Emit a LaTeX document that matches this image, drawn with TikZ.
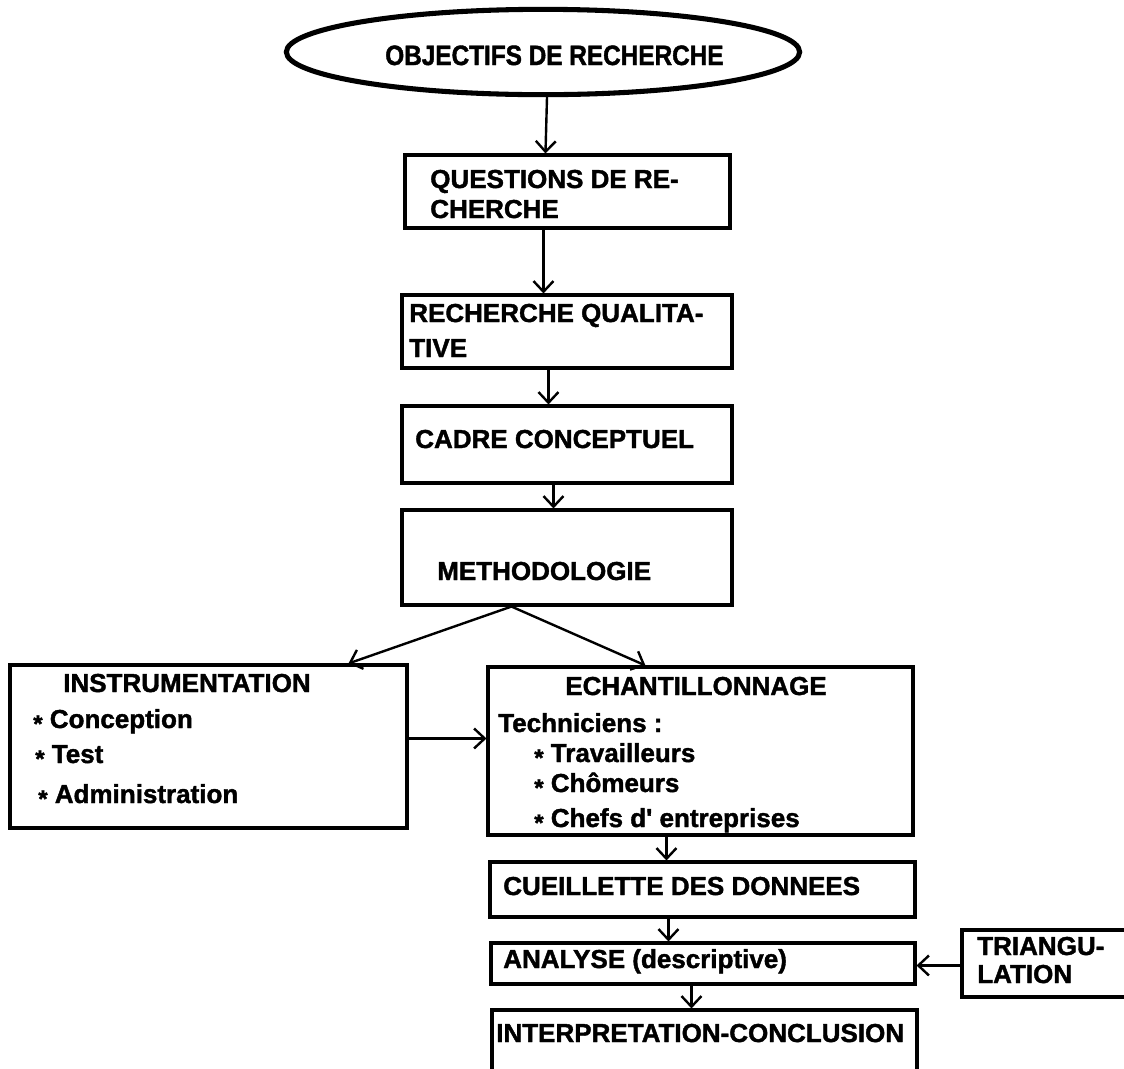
\documentclass[tikz,border=0pt]{standalone}
\usepackage{fontspec}
\setmainfont{Liberation Sans}[BoldFeatures={FakeBold=1.5}]
\newfontfamily\narrowfont{Liberation Sans}[FakeStretch=0.87,BoldFeatures={FakeBold=1.5}]
\usetikzlibrary{arrows.meta,shapes.geometric,fit,calc}
\newcommand\mybul{\raisebox{-3pt}{\fontsize{18}{18}\selectfont *}}
\begin{document}
\begin{tikzpicture}[x=0.75pt,y=-0.75pt,
  box/.style={draw, line width=2.3pt, inner sep=0pt, fit={#1}},
  txt/.style={anchor=base west, inner sep=0pt, font=\fontsize{19.5}{22}\selectfont\bfseries},
  arr/.style={line width=1.8pt, -{Straight Barb[length=8pt,width=15pt,line width=1.8pt]}}]
\useasboundingbox (0,0) rectangle (1124,1068);
\clip (0,0) rectangle (1124,1068);

% ellipse
\node[draw, ellipse, line width=3.8pt, inner sep=0pt, minimum width=385pt, minimum height=64pt] (obj) at (543,52) {};
\node[anchor=base west, inner sep=0pt, font=\fontsize{21}{24}\selectfont\narrowfont\bfseries] (objt) at (385,65) {OBJECTIFS DE RECHERCHE};

% boxes
\node[box={(405,155) (730,228)}] (q) {};
\node[box={(402,295) (732,368)}] (rq) {};
\node[box={(402,406) (732,483)}] (cad) {};
\node[box={(402,510) (732,605)}] (meth) {};
\node[box={(10,665) (407,828)}] (ins) {};
\node[box={(488,667) (913,835)}] (ech) {};
\node[box={(490,862) (915,917)}] (cue) {};
\node[box={(491,943) (915,984)}] (ana) {};
\node[box={(962,930) (1150,997)}] (tri) {};
\node[box={(492,1010) (917,1100)}] (int) {};

% texts
\node[txt] (q1) at (430,188) {QUESTIONS DE RE-};
\node[txt] (q2) at (430,218) {CHERCHE};
\node[txt] (rq1) at (409,322) {RECHERCHE QUALITA-};
\node[txt] (rq2) at (409,357) {TIVE};
\node[txt] (cadt) at (415,448) {CADRE CONCEPTUEL};
\node[txt] (metht) at (437,580) {METHODOLOGIE};
\node[txt] (inst) at (63,692) {INSTRUMENTATION};
\node[txt] (ins1) at (33,728) {\mybul\ Conception};
\node[txt] (ins2) at (35,763) {\mybul\ Test};
\node[txt] (ins3) at (38,803) {\mybul\ Administration};
\node[txt, anchor=base] (echt) at (696,695) {ECHANTILLONNAGE};
\node[txt] (ech0) at (498,732) {Techniciens :};
\node[txt] (ech1) at (534,762) {\mybul\ Travailleurs};
\node[txt] (ech2) at (534,792) {\mybul\ Chômeurs};
\node[txt] (ech3) at (534,827) {\mybul\ Chefs d\textquotesingle\ entreprises};
\node[txt] (cuet) at (503,895) {CUEILLETTE DES DONNEES};
\node[txt] (anat) at (503,968) {ANALYSE (descriptive)};
\node[txt] (intt) at (496,1042) {INTERPRETATION-CONCLUSION};
\node[txt] (tri1) at (977,955) {TRIANGU-};
\node[txt] (tri2) at (977,983) {LATION};

% arrows
\draw[arr] ($(obj.south)+(4,0)$) -- ($(q.north west)+(142,0)$);
\draw[arr] ($(q.south west)+(140,0)$) -- ($(rq.north west)+(143,0)$);
\draw[arr] ($(rq.south west)+(148,0)$) -- ($(cad.north west)+(148,0)$);
\draw[arr] ($(cad.south west)+(153,0)$) -- ($(meth.north west)+(153,0)$);
\coordinate (mb) at ($(meth.south west)+(111,0)$);
\draw[arr] (mb) -- ($(ins.north west)+(340,0)$);
\draw[arr] (mb) -- ($(ech.north west)+(159,0)$);
\draw[arr] ($(ins.north east)+(0,75)$) -- ($(ech.north west)+(0,73)$);
\draw[arr] ($(ech.south west)+(180,0)$) -- ($(cue.north west)+(178,0)$);
\draw[arr] ($(cue.south west)+(180,0)$) -- ($(ana.north west)+(179,0)$);
\draw[arr] ($(ana.south west)+(202,0)$) -- ($(int.north west)+(201,0)$);
\draw[arr] ($(tri.north west)+(0,37)$) -- ($(ana.north east)+(0,24)$);
\end{tikzpicture}
\end{document}
